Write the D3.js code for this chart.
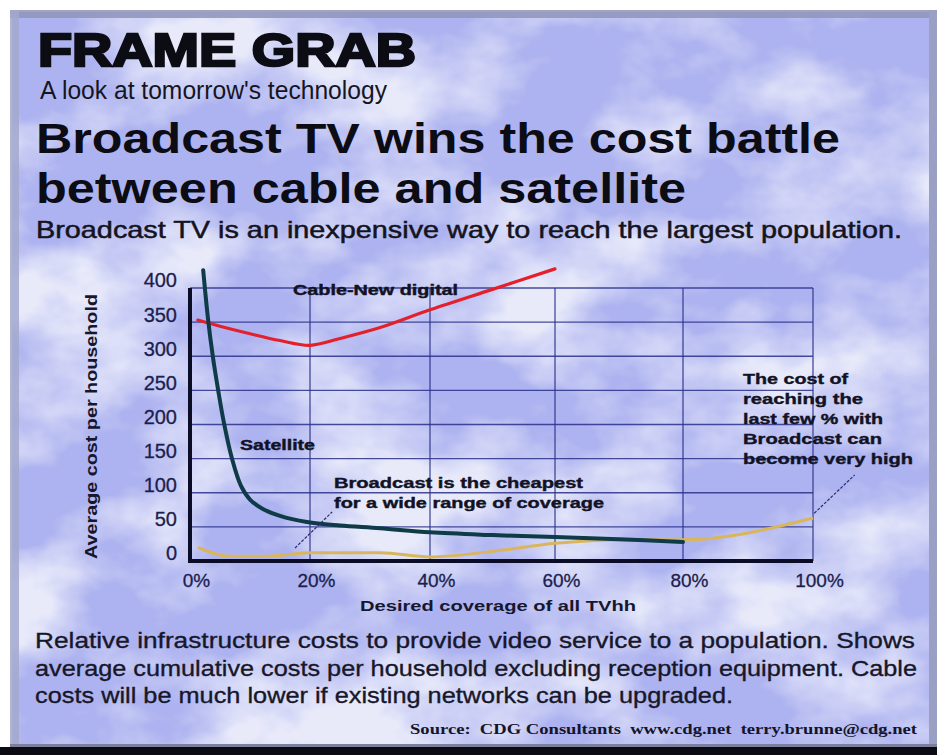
<!DOCTYPE html>
<html>
<head>
<meta charset="utf-8">
<script src="https://cdn.jsdelivr.net/npm/d3@7"></script>
<style>
  html, body { margin: 0; padding: 0; background: #ffffff; }
  svg { display: block; }
</style>
</head>
<body>
<svg id="chart" width="937" height="755"></svg>
<script>
// ---------- data ----------
const xTicks = [0, 20, 40, 60, 80, 100];
const xTickLabels = ["0%", "20%", "40%", "60%", "80%", "100%"];
const yTicks = [0, 50, 100, 150, 200, 250, 300, 350, 400];
const yTickLabels = ["0", "50", "100", "150", "200", "250", "300", "350", "400"];

// Satellite (dark teal)
const satelliteX = [2.2, 3.0, 3.8, 4.7, 5.6, 7.0, 8.5, 10, 12, 15, 19.5, 25, 31.7, 40, 50, 60, 70, 80];
const satelliteY = [426, 355, 300, 250, 205, 150, 110, 90, 77, 66, 57, 52, 48, 42, 38, 35, 32, 28];

// Cable - New digital (red)
const cableX = [1.3, 5, 10, 15, 20, 25, 31.7, 40, 50, 60];
const cableY = [353, 344, 333, 323, 316, 326, 342, 368, 398, 428];

// Broadcast (yellow / orange)
const broadcastX = [1.3, 6.7, 12.8, 20, 31.7, 40, 51.7, 60, 72, 80, 100];
const broadcastY = [20, 7, 7, 12, 12, 6, 16, 26, 31, 31, 63];

// ---------- layout ----------
const svg = d3.select("#chart");
const W = 937, H = 755;

// background clouds
const defs = svg.append("defs");
const f = defs.append("filter").attr("id", "clouds")
  .attr("x", 0).attr("y", 0).attr("width", "100%").attr("height", "100%");
f.append("feTurbulence").attr("type", "fractalNoise")
  .attr("baseFrequency", "0.0065 0.009").attr("numOctaves", 5).attr("seed", 11).attr("result", "noise");
f.append("feColorMatrix").attr("in", "noise").attr("type", "matrix")
  .attr("values", "0 0 0 0 0.42  0 0 0 0 0.45  0 0 0 0 0.87  3.0 0 0 0 -0.82");

svg.append("rect").attr("width", W).attr("height", H).attr("fill", "#ffffff");
svg.append("rect").attr("x", 12).attr("y", 12).attr("width", 920).attr("height", 736).attr("fill", "#e8eafa");
svg.append("rect").attr("x", 12).attr("y", 12).attr("width", 920).attr("height", 736).attr("filter", "url(#clouds)");
// frame strips
svg.append("rect").attr("x", 10).attr("y", 10).attr("width", 922).attr("height", 8).attr("fill", "#8e94b8").attr("opacity", 0.85);
svg.append("rect").attr("x", 10).attr("y", 10).attr("width", 9).attr("height", 740).attr("fill", "#a3a8cc").attr("opacity", 0.85);
svg.append("rect").attr("x", 929).attr("y", 10).attr("width", 8).attr("height", 740).attr("fill", "#9aa0c4");
svg.append("rect").attr("x", 10).attr("y", 744).attr("width", 927).attr("height", 3).attr("fill", "#7b7f9c");
svg.append("rect").attr("x", 0).attr("y", 747).attr("width", W).attr("height", 8).attr("fill", "#0b0b14");

// ---------- headings ----------
const ink = "#0c0c14";
svg.append("text").attr("x", 38).attr("y", 66)
  .attr("font-family", "Liberation Sans, Arial, sans-serif").attr("font-weight", 900)
  .attr("font-size", 46).attr("fill", ink).attr("stroke", ink).attr("stroke-width", 2.4)
  .attr("textLength", 378).attr("lengthAdjust", "spacingAndGlyphs").text("FRAME GRAB");
svg.append("text").attr("x", 40).attr("y", 99)
  .attr("font-family", "Liberation Sans, Arial, sans-serif").attr("font-size", 25).attr("fill", "#15151f")
  .attr("textLength", 347).attr("lengthAdjust", "spacingAndGlyphs").text("A look at tomorrow's technology");
svg.append("text").attr("x", 36).attr("y", 153)
  .attr("font-family", "Liberation Sans, Arial, sans-serif").attr("font-weight", "bold").attr("font-size", 43).attr("fill", ink)
  .attr("textLength", 804).attr("lengthAdjust", "spacingAndGlyphs").text("Broadcast TV wins the cost battle");
svg.append("text").attr("x", 36).attr("y", 203)
  .attr("font-family", "Liberation Sans, Arial, sans-serif").attr("font-weight", "bold").attr("font-size", 43).attr("fill", ink)
  .attr("textLength", 650).attr("lengthAdjust", "spacingAndGlyphs").text("between cable and satellite");
svg.append("text").attr("x", 36).attr("y", 238)
  .attr("font-family", "Liberation Sans, Arial, sans-serif").attr("font-size", 24).attr("fill", "#141420")
  .attr("stroke", "#141420").attr("stroke-width", 0.5)
  .attr("textLength", 866).attr("lengthAdjust", "spacingAndGlyphs")
  .text("Broadcast TV is an inexpensive way to reach the largest population.");

// ---------- chart ----------
const x = d3.scaleLinear().domain(xTicks).range([190, 310, 430, 555, 683, 813]);
const y = d3.scaleLinear().domain([0, 400]).range([561, 288]);

const g = svg.append("g");
const gridColor = "#2a3088";

// horizontal grid
g.selectAll("line.hg").data(yTicks.filter(v => v > 0)).join("line")
  .attr("x1", x(0)).attr("x2", x(100)).attr("y1", d => y(d)).attr("y2", d => y(d))
  .attr("stroke", gridColor).attr("stroke-width", 1.3).attr("opacity", 0.85);
// vertical grid
g.selectAll("line.vg").data(xTicks.filter(v => v > 0)).join("line")
  .attr("x1", d => x(d)).attr("x2", d => x(d)).attr("y1", y(400)).attr("y2", y(0))
  .attr("stroke", gridColor).attr("stroke-width", 1.3).attr("opacity", 0.85);

// axes via d3 axis generators
const yAxis = d3.axisLeft(y).tickValues(yTicks).tickFormat((d, i) => yTickLabels[i]).tickSize(0).tickPadding(13);
const yg = g.append("g").attr("transform", `translate(${x(0)},0)`).call(yAxis);
yg.select(".domain").remove();
yg.selectAll("text").attr("font-family", "Liberation Sans, Arial, sans-serif").attr("font-size", 20)
  .attr("fill", "#1c1e4e").attr("stroke", "#1c1e4e").attr("stroke-width", 0.3);
yg.selectAll(".tick").attr("transform", d => `translate(0,${y(d) - 7})`);

const xAxis = d3.axisBottom(x).tickValues(xTicks).tickFormat((d, i) => xTickLabels[i]).tickSize(0).tickPadding(13);
const xg = g.append("g").attr("transform", `translate(0,${y(0)})`).call(xAxis);
xg.select(".domain").remove();
xg.selectAll("text").attr("font-family", "Liberation Sans, Arial, sans-serif").attr("font-size", 19)
  .attr("fill", "#1c1e4e").attr("stroke", "#1c1e4e").attr("stroke-width", 0.3).attr("dx", 6);

// thick axis lines
g.append("line").attr("x1", x(0)).attr("x2", x(0)).attr("y1", y(400)).attr("y2", y(0) + 2)
  .attr("stroke", "#0b0d26").attr("stroke-width", 4);
g.append("line").attr("x1", x(0) - 2).attr("x2", x(100)).attr("y1", y(0)).attr("y2", y(0))
  .attr("stroke", "#0b0d26").attr("stroke-width", 4);

// axis titles
svg.append("text").attr("transform", `translate(97,${(y(0) + y(400)) / 2 + 2}) rotate(-90)`)
  .attr("text-anchor", "middle").attr("font-family", "Liberation Sans, Arial, sans-serif")
  .attr("font-weight", "bold").attr("font-size", 16).attr("fill", "#16172e")
  .attr("textLength", 265).attr("lengthAdjust", "spacingAndGlyphs").text("Average cost per household");
svg.append("text").attr("x", 498).attr("y", 611).attr("text-anchor", "middle")
  .attr("font-family", "Liberation Sans, Arial, sans-serif").attr("font-weight", "bold").attr("font-size", 15)
  .attr("fill", "#16172e").attr("textLength", 276).attr("lengthAdjust", "spacingAndGlyphs")
  .text("Desired coverage of all TVhh");

// series lines
const zip = (xs, ys) => xs.map((v, i) => [v, ys[i]]);
const lineGen = d3.line().x(d => x(d[0])).y(d => y(d[1]));

g.append("path").datum(zip(broadcastX, broadcastY))
  .attr("d", lineGen.curve(d3.curveMonotoneX)).attr("fill", "none")
  .attr("stroke", "#d9b65c").attr("stroke-width", 3).attr("stroke-linejoin", "round");
g.append("path").datum(zip(cableX, cableY))
  .attr("d", lineGen.curve(d3.curveCatmullRom.alpha(0.5))).attr("fill", "none")
  .attr("stroke", "#e3202c").attr("stroke-width", 3.2).attr("stroke-linecap", "round");
g.append("path").datum(zip(satelliteX, satelliteY))
  .attr("d", lineGen.curve(d3.curveCatmullRom.alpha(0.5))).attr("fill", "none")
  .attr("stroke", "#0f3a48").attr("stroke-width", 4).attr("stroke-linecap", "round");

// leader lines (in data units)
const leaders = [
  [[17.5, 19], [23.7, 72]],
  [[100.2, 70], [106.4, 126]]
];
g.selectAll("line.leader").data(leaders).join("line")
  .attr("x1", d => x(d[0][0])).attr("y1", d => y(d[0][1]))
  .attr("x2", d => x(d[1][0])).attr("y2", d => y(d[1][1]))
  .attr("stroke", "#2a2e6a").attr("stroke-width", 1.2).attr("stroke-dasharray", "3,1.5");

// annotations
const ann = (tx, ty, txt, len, size) => svg.append("text").attr("x", tx).attr("y", ty)
  .attr("font-family", "Liberation Sans, Arial, sans-serif").attr("font-weight", "bold")
  .attr("font-size", size).attr("fill", "#111225").attr("stroke", "#111225").attr("stroke-width", 0.4)
  .attr("textLength", len).attr("lengthAdjust", "spacingAndGlyphs").text(txt);
ann(293, 295, "Cable-New digital", 165, 14);
ann(240, 450, "Satellite", 75, 14);
ann(334, 488, "Broadcast is the cheapest", 249, 15);
ann(334, 508, "for a wide range of coverage", 270, 15);
const noteLines = ["The cost of", "reaching the", "last few % with", "Broadcast can", "become very high"];
const noteLens = [105, 120, 140, 139, 170];
noteLines.forEach((t, i) => ann(743, 384 + i * 20, t, noteLens[i], 15.5));

// caption
const capLines = [
  "Relative infrastructure costs to provide video service to a population. Shows",
  "average cumulative costs per household excluding reception equipment. Cable",
  "costs will be much lower if existing networks can be upgraded."
];
const capLens = [880, 882, 698];
capLines.forEach((t, i) => svg.append("text").attr("x", 35).attr("y", 648 + i * 27.5)
  .attr("font-family", "Liberation Sans, Arial, sans-serif").attr("font-size", 22)
  .attr("fill", "#17172a").attr("stroke", "#17172a").attr("stroke-width", 0.35)
  .attr("textLength", capLens[i]).attr("lengthAdjust", "spacingAndGlyphs").text(t));

svg.append("text").attr("x", 917).attr("y", 734).attr("text-anchor", "end")
  .attr("font-family", "Liberation Serif, Times New Roman, serif").attr("font-weight", "bold")
  .attr("font-size", 15).attr("fill", "#15152a")
  .attr("textLength", 507).attr("lengthAdjust", "spacingAndGlyphs")
  .attr("xml:space", "preserve")
  .text("Source:  CDG Consultants  www.cdg.net  terry.brunne@cdg.net");
</script>
</body>
</html>
